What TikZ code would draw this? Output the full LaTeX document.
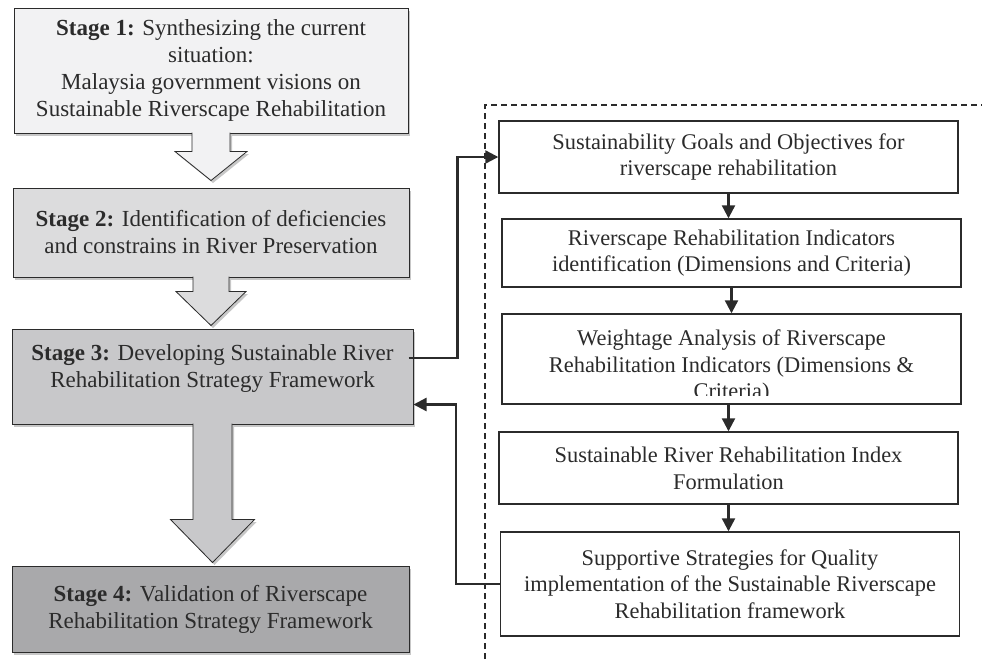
\documentclass[tikz,border=0pt]{standalone}
\usepackage{fontspec}
\setmainfont{Liberation Serif}
\usetikzlibrary{arrows.meta,calc,shadows}

\definecolor{stageone}{HTML}{F2F2F3}
\definecolor{stagetwo}{HTML}{DCDCDD}
\definecolor{stagethree}{HTML}{C8C8CA}
\definecolor{stagefour}{HTML}{A9A9AB}
\definecolor{inkgray}{HTML}{2B2B2B}

\tikzset{
  stagebox/.style={draw=inkgray, line width=1pt, align=center, inner sep=0pt,
    font=\fontsize{23}{27}\selectfont, text=inkgray,
    drop shadow={shadow xshift=2pt, shadow yshift=-2.5pt, fill=black!22, opacity=1}},
  tasktext/.style={align=center, inner sep=0pt, font=\fontsize{22.4}{26.7}\selectfont, text=inkgray},
  taskbox/.style={tasktext, draw=inkgray, line width=1.4pt, fill=white, minimum width=459pt},
  bigarrow/.style={draw=inkgray, line width=0.8pt,
    drop shadow={shadow xshift=2pt, shadow yshift=-2.5pt, fill=black!22, opacity=1}},
  link/.style={draw=inkgray, line width=2.3pt, -{Triangle[length=13pt,width=13pt]}},
}

\newcommand{\stagearrow}[6]{%
  \draw[bigarrow, fill=#6] ($(#1.south)+(-#2,-1)$) -- ($(#1.south)+(-#2,#4)$)
    -- ($(#1.south)+(-#3,#4)$) -- ($(#1.south)+(0,#5)$) -- ($(#1.south)+(#3,#4)$)
    -- ($(#1.south)+(#2,#4)$) -- ($(#1.south)+(#2,-1)$);}

\begin{document}
\begin{tikzpicture}[x=1pt, y=-1pt]
  \useasboundingbox (0,0) rectangle (982,659);

  \node[stagebox, fill=stageone, minimum width=394pt, minimum height=125pt] (s1) at (211,70.5)
    {\textbf{Stage 1:} Synthesizing the current\\situation:\\Malaysia government visions on\\Sustainable Riverscape Rehabilitation};
  \node[stagebox, fill=stagetwo, minimum width=396pt, minimum height=89pt] (s2) at (211,232.5)
    {\textbf{Stage 2:} Identification of deficiencies\\and constrains in River Preservation};
  \node[stagebox, fill=stagethree, minimum width=401pt, minimum height=95pt, text depth=20pt] (s3) at (212.5,376.5)
    {\textbf{Stage 3:} Developing Sustainable River\\Rehabilitation Strategy Framework};
  \node[stagebox, fill=stagefour, minimum width=397pt, minimum height=86pt] (s4) at (210.5,609)
    {\textbf{Stage 4:} Validation of Riverscape\\Rehabilitation Strategy Framework};

  \stagearrow{s1}{19}{36}{18}{47}{stageone}
  \stagearrow{s2}{18}{35}{14}{48}{stagetwo}
  \stagearrow{s3}{19.5}{42}{95}{138}{stagethree}

  \draw[inkgray, line width=1.3pt, dash pattern=on 6pt off 4pt] (485,659) -- (485,105) -- (982,105);

  \node[taskbox, minimum height=72pt] (g1) at (728.5,157)
    {Sustainability Goals and Objectives for\\riverscape rehabilitation};
  \node[taskbox, minimum height=68pt] (g2) at (731.5,253)
    {Riverscape Rehabilitation Indicators\\identification (Dimensions and Criteria)};
  \node[taskbox, minimum height=90pt] (g3) at (731.5,359) {};
  \begin{scope}
    \clip ($(g3.north west)+(1,1)$) rectangle ($(g3.south east)+(-1,-9)$);
    \node[tasktext] (g3text) at ($(g3.center)+(0,7.5)$)
      {Weightage Analysis of Riverscape\\Rehabilitation Indicators (Dimensions \&\\Criteria)};
  \end{scope}
  \node[taskbox, minimum height=72pt] (g4) at (728.5,468)
    {Sustainable River Rehabilitation Index\\Formulation};
  \node[taskbox, minimum height=104pt] (g5) at (730,584)
    {Supportive Strategies for Quality\\implementation of the Sustainable Riverscape\\Rehabilitation framework};

  \draw[link] (g1.south) -- (g1.south |- g2.north);
  \draw[link] (g2.south) -- (g2.south |- g3.north);
  \draw[link] (g4.north |- g3.south) -- (g4.north);
  \draw[link] (g4.south) -- (g4.south |- g5.north);

  \draw[link] ($(s3.east)+(-5,-18.5)$) -- ++(49,0) |- (g1.west);
  \draw[link] (g5.west) -- ++(-44,0) |- ($(s3.east)+(0,28)$);
\end{tikzpicture}
\end{document}
